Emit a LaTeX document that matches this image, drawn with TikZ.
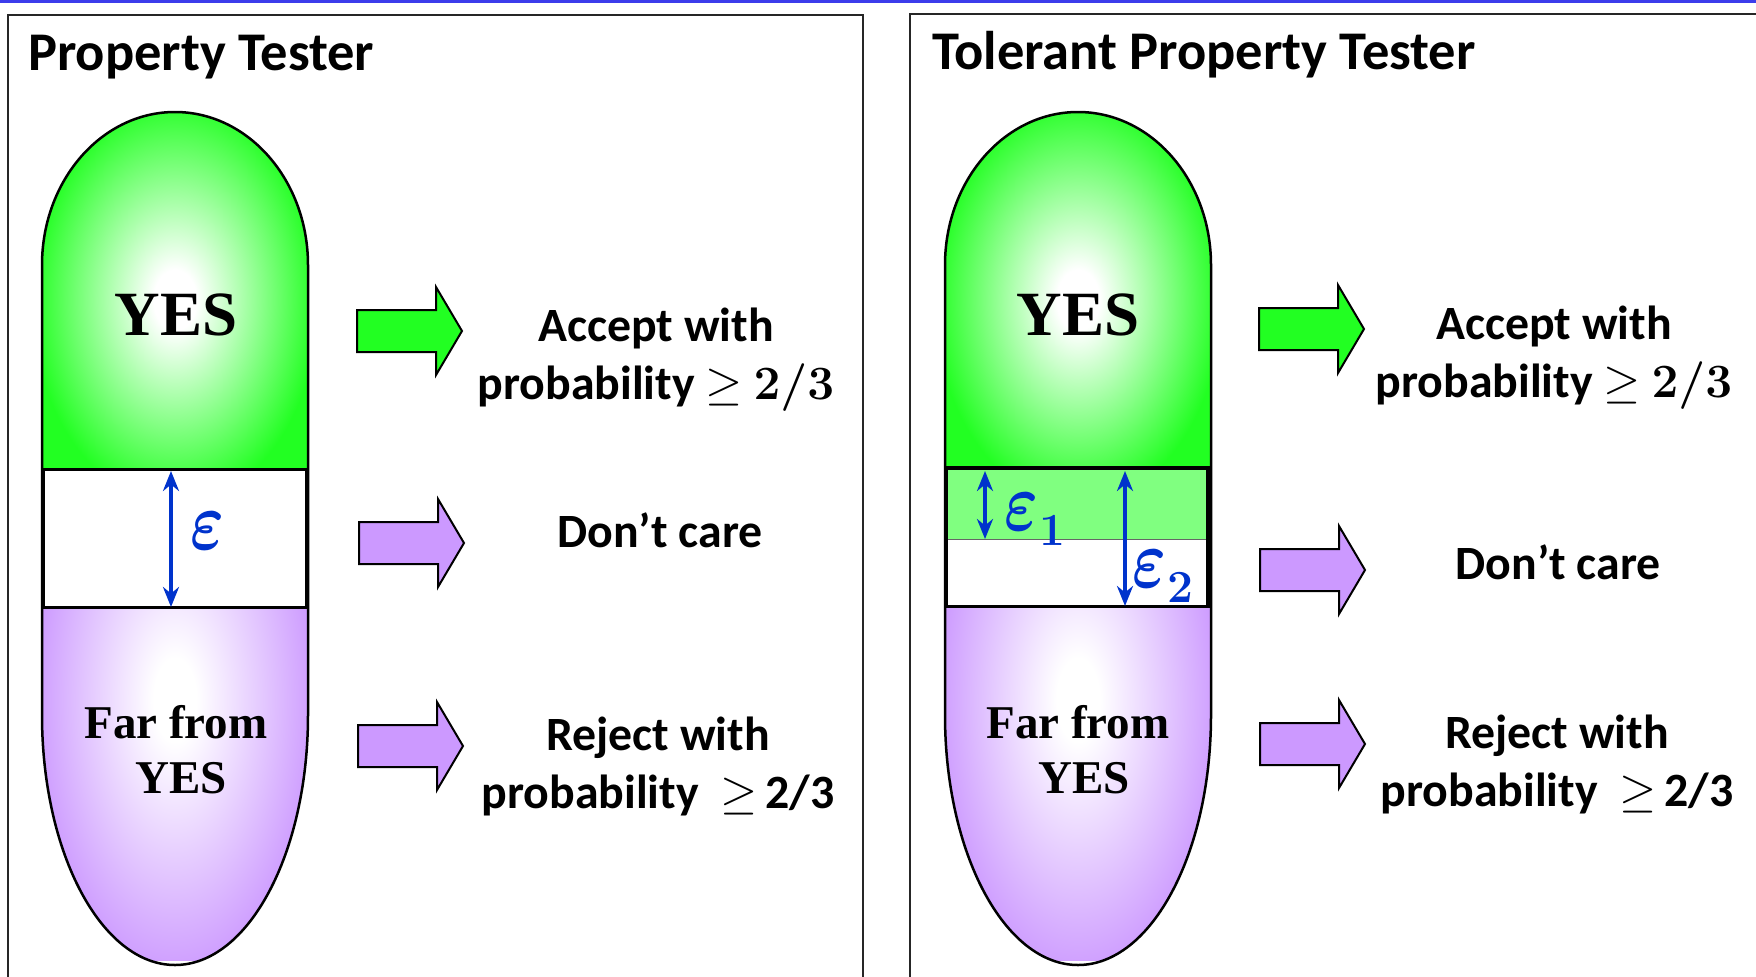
\RequirePackage{fix-cm}
\documentclass[tikz,border=0pt]{standalone}
\usepackage{graphicx}
\usepackage{fontspec}
\newfontfamily\calibri{Carlito}
\newfontfamily\timesf{Liberation Serif}
\usetikzlibrary{arrows.meta}
\definecolor{capgreen}{RGB}{34,255,34}
\definecolor{lightgreen}{RGB}{128,255,128}
\definecolor{cappurple}{RGB}{204,153,255}
\definecolor{epsblue}{RGB}{0,51,204}
\definecolor{topblue}{RGB}{60,60,235}
\pgfdeclareradialshading{greenglow}{\pgfpoint{0bp}{0bp}}{color(0bp)=(white); color(4bp)=(white); color(27bp)=(capgreen); color(50bp)=(capgreen)}
\pgfdeclareradialshading{purpleglow}{\pgfpoint{0bp}{0bp}}{color(0bp)=(white); color(4bp)=(white); color(27bp)=(cappurple); color(50bp)=(cappurple)}
\newcommand\blockarrow[3]{%
  \draw[blk, fill=#3] ({#1-105},{#2-21}) -- ({#1-26},{#2-21}) -- ({#1-26},{#2-44}) -- (#1,#2) -- ({#1-26},{#2+44}) -- ({#1-26},{#2+21}) -- ({#1-105},{#2+21}) -- cycle;}
\newcommand\captop[1]{({#1-133},468) -- ({#1-133},265) arc[start angle=180, end angle=360, x radius=133, y radius=153] -- ({#1+133},468) -- cycle}
\newcommand\capbot[1]{({#1-133},608) -- ({#1-133},715) arc[start angle=180, end angle=0, x radius=133, y radius=250] -- ({#1+133},608) -- cycle}
\newcommand\capall[1]{({#1-133},715) -- ({#1-133},265) arc[start angle=180, end angle=360, x radius=133, y radius=153] -- ({#1+133},715) arc[start angle=0, end angle=180, x radius=133, y radius=250] -- cycle}
\newcommand\epsglyph{\scalebox{1}[1.3]{\boldmath$\varepsilon$}}
\newcommand\epssub[1]{\epsglyph\kern1pt\raisebox{-15pt}{\fontsize{46}{50}\selectfont\boldmath$#1$}}
\tikzset{
  lbl/.style={font=\calibri\bfseries\fontsize{47.8}{58}\selectfont, align=center, inner sep=0, anchor=base},
  ttl/.style={font=\calibri\bfseries\fontsize{54.5}{60}\selectfont, anchor=base west, inner sep=0},
  yes/.style={font=\timesf\bfseries\fontsize{63}{70}\selectfont, inner sep=0, anchor=base},
  far/.style={font=\timesf\bfseries\fontsize{47}{54}\selectfont, inner sep=0, anchor=base},
  blk/.style={draw=black, line width=2pt, line join=miter},
  epsarr/.style={draw=epsblue, line width=3.5pt, {Stealth[length=20pt,width=16pt]}-{Stealth[length=20pt,width=16pt]}},
  epslbl/.style={text=epsblue, font=\fontsize{64}{70}\selectfont, inner sep=0, anchor=base west},
  bandline/.style={draw=black, line width=3pt},
  capline/.style={draw=black, line width=2.5pt},
  panel/.style={draw=black!85, line width=2pt}
}
\begin{document}
\begin{tikzpicture}[x=1pt,y=-1pt]
\useasboundingbox[fill=white] (0,0) rectangle (1756,977);
% top blue line
\draw[topblue, line width=3pt] (0,1) -- (1756,1);
% panels
\draw[panel] (8,990) -- (8,15) -- (863,15) -- (863,990);
\draw[panel] (910,990) -- (910,14) -- (1770,14);
\node[ttl] (t1) at (28,70) {Property Tester};
\node[ttl] (t2) at (932,69) {Tolerant Property Tester};

% ---------- left capsule ----------
\begin{scope}
  \clip \captop{175};
  \shade[shading=greenglow] (42,112) rectangle (308,488);
\end{scope}
\begin{scope}
  \clip \capbot{175};
  \shade[shading=purpleglow] (42,440) rectangle (308,960);
\end{scope}
\fill[white] (43,469) rectangle (307,608);
\draw[capline] \capall{175};
\draw[bandline] (43.5,469.5) rectangle (306.5,607.5);
\coordinate (e0a) at (171,471);
\coordinate (e0b) at (171,607);
\draw[epsarr] (e0a) -- (e0b);
\node[epslbl] (eps0) at (190,549) {\epsglyph};
\node[yes] (yes1) at (176,335) {YES};
\node[far] (far1) at (176,738) {Far from};
\node[far] (far1b) at (181,793) {YES};

% ---------- right capsule ----------
\begin{scope}
  \clip \captop{1078};
  \shade[shading=greenglow] (945,112) rectangle (1211,488);
\end{scope}
\begin{scope}
  \clip \capbot{1078};
  \shade[shading=purpleglow] (945,440) rectangle (1211,960);
\end{scope}
\fill[lightgreen] (946,469) rectangle (1210,539.5);
\fill[white] (946,539.5) rectangle (1210,607);
\draw[capline] \capall{1078};
\draw[black!60, line width=1.2pt] (946,539.5) -- (1209,539.5);
\draw[draw=black, line width=4pt] (946.5,468) -- (1208.5,468);
\draw[draw=black, line width=3.5pt] (946.5,466) -- (946.5,607);
\draw[draw=black, line width=5pt] (1208.5,466) -- (1208.5,607);
\draw[draw=black, line width=3pt] (945,606.5) -- (1211,606.5);
\coordinate (e1a) at (985,471);
\coordinate (e1b) at (985,539);
\draw[epsarr] (e1a) -- (e1b);
\coordinate (e2a) at (1125,471);
\coordinate (e2b) at (1125,606);
\draw[epsarr] (e2a) -- (e2b);
\node[epslbl] (eps1) at (1004,530) {\epssub{1}};
\node[epslbl] (eps2) at (1132,587) {\epssub{2}};
\node[yes] (yes2) at (1078,335) {YES};
\node[far] (far2) at (1078,738) {Far from};
\node[far] (far2b) at (1084,793) {YES};

% ---------- block arrows ----------
\blockarrow{462}{331}{capgreen}
\blockarrow{464}{543}{cappurple}
\blockarrow{463}{746}{cappurple}
\blockarrow{1364}{329}{capgreen}
\blockarrow{1365}{570}{cappurple}
\blockarrow{1365}{744}{cappurple}

% ---------- labels (anchor = baseline of last line) ----------
\node[lbl] (acc1) at (656,399) {Accept with\\probability $\geq$ {\boldmath$2/3$}};
\node[lbl] (dc1) at (660,547) {Don’t care};
\node[lbl] (rej1) at (658,808) {Reject with\\probability~~$\geq$\,2/3};
\node[lbl] (acc2) at (1554,397) {Accept with\\probability $\geq$ {\boldmath$2/3$}};
\node[lbl] (dc2) at (1558,579) {Don’t care};
\node[lbl] (rej2) at (1557,806) {Reject with\\probability~~$\geq$\,2/3};
\end{tikzpicture}
\end{document}
